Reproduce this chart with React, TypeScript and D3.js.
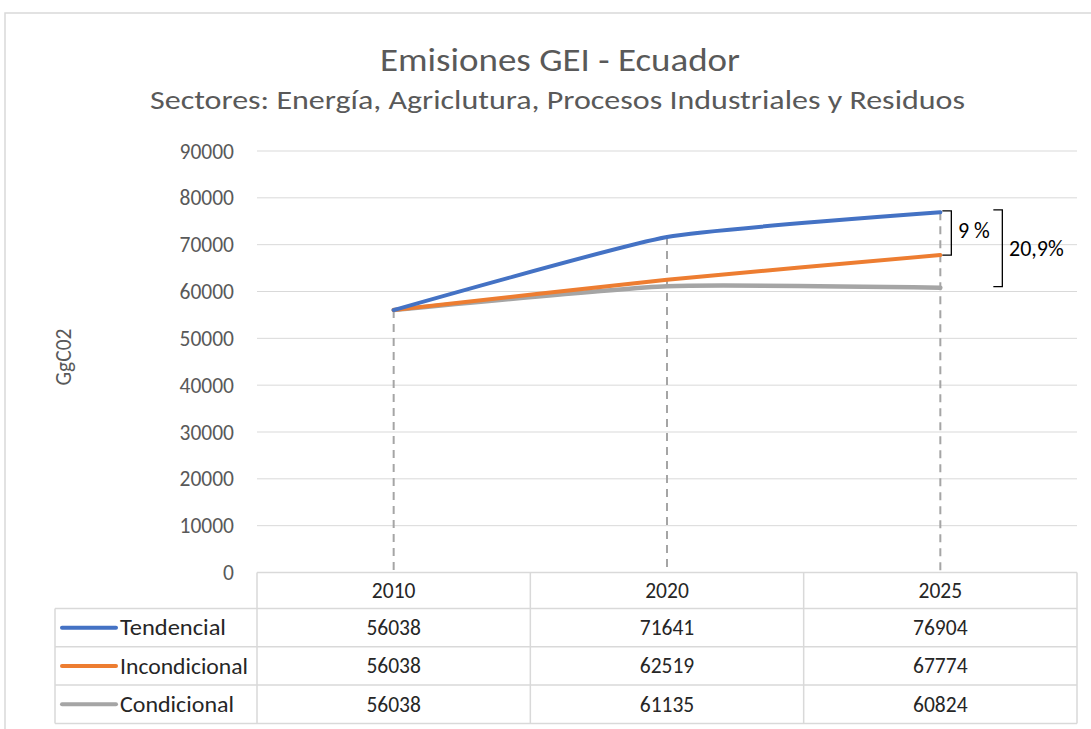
import React from "react";
import * as d3 from "d3";

const categories = ["2010", "2020", "2025"];
const seriesNames = ["Tendencial", "Incondicional", "Condicional"];
const tendencial = [56038, 71641, 76904];
const incondicional = [56038, 62519, 67774];
const condicional = [56038, 61135, 60824];
const yTicks = [0, 10000, 20000, 30000, 40000, 50000, 60000, 70000, 80000, 90000];
const colors = ["#4472C4", "#ED7D31", "#A5A5A5"];
const legendWidths = [106, 128, 114];
const annot1 = "9 %";
const annot2 = "20,9%";

const W = 1091;
const H = 729;
const FONT = "Carlito, Lato, 'Open Sans', sans-serif";

export default function App() {
  const left = 257;
  const right = 1077;
  const top = 151;
  const bottom = 572.5;
  const x = d3.scaleBand<string>().domain(categories).range([left, right]);
  const y = d3.scaleLinear().domain([0, 90000]).range([bottom, top]);
  const cx = (c: string) => (x(c) as number) + x.bandwidth() / 2;
  const series = [tendencial, incondicional, condicional];
  const line = d3
    .line<number>()
    .x((_, i) => cx(categories[i]))
    .y((v) => y(v))
    .curve(d3.curveCardinal.tension(0.5));

  const maxAt = categories.map((_, i) => d3.max(series, (s) => s[i]) as number);

  const tableTop = bottom;
  const headerH = 36;
  const rowH = 38.3;
  const legendLeft = 55;
  const tableBottom = tableTop + headerH + rowH * 3;
  const gridColor = "#D9D9D9";
  const fs = 21.5;

  const lastX = cx(categories[2]);
  const b1Top = y(tendencial[2]) - 1.5;
  const b1Bot = y(incondicional[2]);
  const b2Bot = y(condicional[2]) - 1;

  return (
    <svg
      width={W}
      height={H}
      style={{ position: "absolute", left: 0, top: 0, background: "#fff" }}
      fontFamily={FONT}
    >
      <rect x={5} y={13} width={W} height={H} fill="#fff" stroke="#D9D9D9" strokeWidth={1.5} />
      <text x={560} y={71} textAnchor="middle" fontSize={32} fill="#595959" textLength={360} lengthAdjust="spacingAndGlyphs">
        Emisiones GEI - Ecuador
      </text>
      <text x={557.5} y={109} textAnchor="middle" fontSize={27} fill="#595959" textLength={815} lengthAdjust="spacingAndGlyphs">
        Sectores: Energía, Agriclutura, Procesos Industriales y Residuos
      </text>

      {yTicks.slice(1).map((t) => (
        <line key={t} x1={left} x2={right} y1={y(t)} y2={y(t)} stroke={gridColor} strokeWidth={1} />
      ))}
      {yTicks.map((t) => (
        <text key={t} x={234} y={y(t)} dy="0.35em" textAnchor="end" fontSize={fs} fill="#595959">
          {t}
        </text>
      ))}
      <text
        transform={`translate(63,357) rotate(-90)`}
        textAnchor="middle"
        dy="0.35em"
        fontSize={fs}
        fill="#595959"
      >
        GgC02
      </text>

      {categories.map((c, i) => (
        <line
          key={c}
          x1={cx(c)}
          x2={cx(c)}
          y1={y(maxAt[i])}
          y2={bottom}
          stroke="#A5A5A5"
          strokeWidth={2}
          strokeDasharray="8,6"
        />
      ))}

      {series
        .slice()
        .reverse()
        .map((s, ri) => {
          const i = series.length - 1 - ri;
          return (
            <path
              key={i}
              d={line(s) || ""}
              fill="none"
              stroke={colors[i]}
              strokeWidth={i === 2 ? 4.5 : 4}
              strokeLinecap="round"
              strokeLinejoin="round"
            />
          );
        })}

      <path
        d={`M${lastX + 2},${b1Top} H${lastX + 11} V${b1Bot} H${lastX + 2}`}
        fill="none"
        stroke="#000"
        strokeWidth={1.3}
      />
      <text x={958} y={(b1Top + b1Bot) / 2 - 3} dy="0.35em" fontSize={22} fill="#000">
        {annot1}
      </text>
      <path
        d={`M${lastX + 53},${b1Top - 1} H${lastX + 62} V${b2Bot} H${lastX + 53}`}
        fill="none"
        stroke="#000"
        strokeWidth={1.3}
      />
      <text x={1009} y={(b1Top + b2Bot) / 2} dy="0.35em" fontSize={22} fill="#000">
        {annot2}
      </text>

      <g stroke={gridColor} strokeWidth={1.5} fill="none">
        <line x1={left} x2={right} y1={tableTop} y2={tableTop} />
        {[0, 1, 2, 3].map((r) => (
          <line
            key={r}
            x1={legendLeft}
            x2={right}
            y1={tableTop + headerH + r * rowH}
            y2={tableTop + headerH + r * rowH}
          />
        ))}
        <line x1={legendLeft} x2={legendLeft} y1={tableTop + headerH} y2={tableBottom} />
        {categories.map((c) => (
          <line key={c} x1={x(c)} x2={x(c)} y1={tableTop} y2={tableBottom} />
        ))}
        <line x1={right} x2={right} y1={tableTop} y2={tableBottom} />
      </g>
      {categories.map((c) => (
        <text key={c} x={cx(c)} y={tableTop + headerH / 2} dy="0.35em" textAnchor="middle" fontSize={fs} fill="#262626">
          {c}
        </text>
      ))}
      {series.map((s, r) => {
        const rowMid = tableTop + headerH + r * rowH + rowH / 2;
        return (
          <g key={r}>
            <line x1={62} x2={116} y1={rowMid} y2={rowMid} stroke={colors[r]} strokeWidth={4} strokeLinecap="round" />
            <text x={120} y={rowMid} dy="0.35em" fontSize={22} fill="#262626" textLength={legendWidths[r]} lengthAdjust="spacingAndGlyphs">
              {seriesNames[r]}
            </text>
            {s.map((v, i) => (
              <text key={i} x={cx(categories[i])} y={rowMid} dy="0.35em" textAnchor="middle" fontSize={fs} fill="#262626">
                {v}
              </text>
            ))}
          </g>
        );
      })}
    </svg>
  );
}
